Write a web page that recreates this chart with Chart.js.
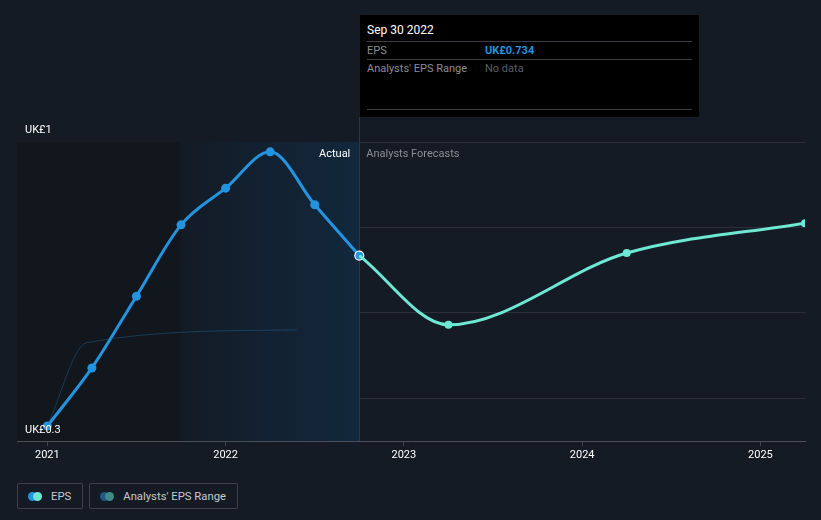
<!DOCTYPE html>
<html>
<head>
<meta charset="utf-8">
<script src="https://cdn.jsdelivr.net/npm/chart.js@4.4.1/dist/chart.umd.min.js"></script>
<style>
  html, body { margin: 0; padding: 0; background: #151b25; }
  body { width: 821px; height: 520px; position: relative; overflow: hidden; font-family: Roboto, "Noto Sans", sans-serif; }
  #wrap { position: absolute; left: 0; top: 0; width: 821px; height: 470px; }
  #tip { position: absolute; left: 360px; top: 15px; width: 339px; height: 102px; background: #000; color: #fff; font-size: 11px; box-sizing: border-box; padding: 0 7px; }
  #tip .hd { height: 26px; line-height: 31px; font-size: 12px; border-bottom: 1px solid #3a3d42; }
  #tip .row { height: 17px; line-height: 17px; border-bottom: 1px solid #3a3d42; color: #8a8d92; display: flex; }
  #tip .row span:first-child { width: 118px; }
  #tip .row.last { border-bottom: none; }
  #tip .foot { position: absolute; left: 7px; right: 7px; top: 94px; border-top: 1px solid #3a3d42; }
  #legend { position: absolute; left: 17px; top: 483px; display: flex; gap: 6px; }
  .lg { height: 26px; border: 1px solid #3c414b; border-radius: 2px; box-sizing: border-box; display: flex; align-items: center; padding: 0 11px 0 10px; color: #c5c8cc; font-size: 11.3px; }
  .dots { position: relative; width: 14px; height: 9px; margin-right: 9px; }
  .dots i { position: absolute; top: 0; width: 9px; height: 9px; border-radius: 50%; }
</style>
</head>
<body>
<div id="wrap"><canvas id="c"></canvas></div>
<div id="tip">
  <div class="hd">Sep 30 2022</div>
  <div class="row"><span>EPS</span><span style="color:#2394df;font-weight:bold">UK£0.734</span></div>
  <div class="row last"><span>Analysts' EPS Range</span><span style="color:#5b5e63">No data</span></div>
  <div class="foot"></div>
</div>
<div id="legend">
  <div class="lg"><div class="dots"><i style="left:0;background:#2394df"></i><i style="left:5px;background:#6ee7d3"></i></div>EPS</div>
  <div class="lg"><div class="dots"><i style="left:0;background:#1e5a85"></i><i style="left:5px;background:#3e8a84"></i></div>Analysts' EPS Range</div>
</div>
<script>
// dates as decimal years
const actualDates = [2021.0, 2021.25, 2021.5, 2021.75, 2022.0, 2022.25, 2022.5, 2022.75];
const actualEps = [0.335, 0.471, 0.639, 0.806, 0.892, 0.977, 0.853, 0.734];
const forecastDates = [2022.75, 2023.25, 2024.25, 2025.25];
const forecastEps = [0.734, 0.572, 0.740, 0.810];
const rangeDates = [2021.0, 2021.22, 2022.4];
const rangeEps = [0.335, 0.53, 0.56];
const yearTicks = [2021, 2022, 2023, 2024, 2025];

const xMin = 2020.83, xMax = 2025.25;
const pastEnd = 2021.75, nowDate = 2022.75;

const toPts = (xs, ys) => xs.map((x, i) => ({ x: x, y: ys[i] }));

const bgPlugin = {
  id: "bands",
  beforeDatasetsDraw(chart) {
    const { ctx, chartArea: a, scales } = chart;
    const x = scales.x;
    const x0 = a.left, x1 = x.getPixelForValue(pastEnd), x2 = x.getPixelForValue(nowDate);
    ctx.save();
    ctx.fillStyle = "#12161d";
    ctx.fillRect(x0, a.top, x1 - x0, a.bottom - a.top);
    const g = ctx.createLinearGradient(x1, 0, x2, 0);
    g.addColorStop(0, "#131b25");
    g.addColorStop(1, "#12283d");
    ctx.fillStyle = g;
    ctx.fillRect(x1, a.top, x2 - x1, a.bottom - a.top);
    ctx.strokeStyle = "#27384a";
    ctx.lineWidth = 1;
    ctx.beginPath();
    ctx.moveTo(Math.round(x2) + 0.5, 117);
    ctx.lineTo(Math.round(x2) + 0.5, a.bottom);
    ctx.stroke();
    ctx.restore();
  },
  afterDraw(chart) {
    const { ctx, chartArea: a, scales } = chart;
    const x2 = scales.x.getPixelForValue(nowDate);
    ctx.save();
    ctx.font = "11px Roboto, sans-serif";
    ctx.textBaseline = "middle";
    ctx.textAlign = "right";
    ctx.fillStyle = "#ffffff";
    ctx.fillText("Actual", x2 - 9, a.top + 12);
    ctx.textAlign = "left";
    ctx.fillStyle = "#8a8d92";
    ctx.fillText("Analysts Forecasts", x2 + 7, a.top + 12);
    ctx.fillStyle = "#ffffff";
    ctx.fillText("UK£1", 25, scales.y.getPixelForValue(1.0) - 12);
    ctx.fillText("UK£0.3", 25, scales.y.getPixelForValue(0.3) - 11);
    ctx.restore();
  }
};

const chart = new Chart(document.getElementById("c"), {
  type: "line",
  data: {
    datasets: [
      {
        label: "Range",
        data: toPts(rangeDates, rangeEps),
        borderColor: "rgba(35,110,170,0.4)",
        borderWidth: 1,
        pointRadius: 0,
        cubicInterpolationMode: "monotone",
      },
      {
        label: "Forecast",
        data: toPts(forecastDates, forecastEps),
        borderColor: "#6ee7d3",
        backgroundColor: "#6ee7d3",
        borderWidth: 3,
        pointRadius: [0, 4, 4, 4],
        pointBorderWidth: 0,
        cubicInterpolationMode: "monotone",
      },
      {
        label: "EPS",
        data: toPts(actualDates, actualEps),
        borderColor: "#2394df",
        backgroundColor: "#2394df",
        borderWidth: 3,
        pointRadius: 4.5,
        pointBorderWidth: [0, 0, 0, 0, 0, 0, 0, 1.2],
        pointBorderColor: "#ffffff",
        cubicInterpolationMode: "monotone",
      },
    ],
  },
  options: {
    responsive: true,
    maintainAspectRatio: false,
    animation: false,
    layout: { padding: { left: 17, right: 16, top: 142, bottom: 0 } },
    plugins: { legend: { display: false }, tooltip: { enabled: false } },
    scales: {
      x: {
        type: "linear",
        min: xMin,
        max: xMax,
        afterFit: (s) => { s.height = 29; },
        afterBuildTicks: (s) => { s.ticks = yearTicks.map((v) => ({ value: v })); },
        grid: { display: true, drawOnChartArea: false, color: "#3c414b", tickLength: 5 },
        border: { color: "#4a4f58" },
        ticks: {
          color: "#ffffff",
          font: { family: "Roboto", size: 11 },
          padding: 3,
          maxRotation: 0,
          callback: (v) => String(v),
        },
      },
      y: {
        min: 0.3,
        max: 1.0,
        afterFit: (s) => { s.width = 0; },
        afterBuildTicks: (s) => { s.ticks = [0.4, 0.6, 0.8, 1.0].map((v) => ({ value: v })); },
        grid: { color: "#2a2f38", drawTicks: false },
        border: { display: false },
        ticks: { display: false },
      },
    },
  },
  plugins: [bgPlugin],
});
</script>
</body>
</html>
